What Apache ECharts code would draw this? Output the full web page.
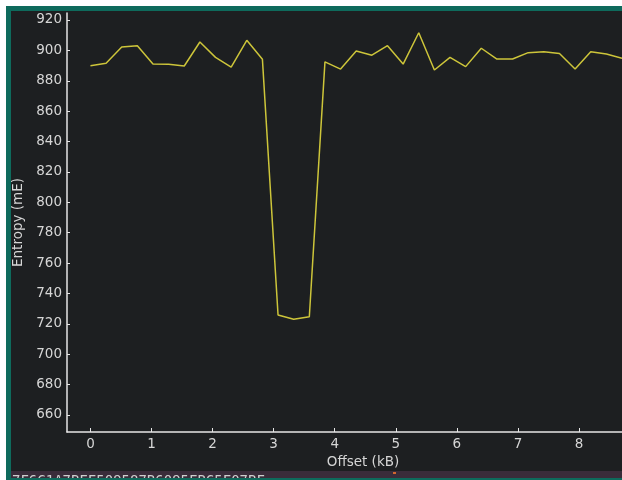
<!DOCTYPE html>
<html>
<head>
<meta charset="utf-8">
<script src="https://cdn.jsdelivr.net/npm/echarts@6/dist/echarts.min.js"></script>
<style>
  html, body { margin: 0; padding: 0; background: #ffffff; }
  #chart { width: 622px; height: 480px; }
</style>
</head>
<body>
<div id="chart"></div>
<script>
// offset of each 256-byte block, in kB
const offsets = [
    0, 0.256, 0.512, 0.768, 1.024, 1.28, 1.536, 1.792, 2.048, 2.304,
    2.56, 2.816, 3.072, 3.328, 3.584, 3.84, 4.096, 4.352, 4.608, 4.864,
    5.12, 5.376, 5.632, 5.888, 6.144, 6.4, 6.656, 6.912, 7.168, 7.424,
    7.68, 7.936, 8.192, 8.448, 8.704
];
// entropy in milli-entropy units
const entropy = [
    889.9, 891.5, 902.2, 903.1, 891.0, 890.8, 889.7, 905.5, 895.4, 889.0,
    906.6, 894.1, 725.8, 723.0, 724.7, 892.4, 887.7, 899.6, 896.8, 903.1,
    891.0, 911.6, 887.1, 895.4, 889.3, 901.4, 894.3, 894.3, 898.5, 899.1,
    898.0, 887.7, 899.1, 897.6, 894.8
];
const xTicks = [0, 1, 2, 3, 4, 5, 6, 7, 8];
const yTicks = [660, 680, 700, 720, 740, 760, 780, 800, 820, 840, 860, 880, 900, 920];
const hexLine = '7F6C1A7BEF509587B6095FBC5F07BF';

var chartDom = document.getElementById('chart');
var myChart = echarts.init(chartDom);

const labelColor = '#d6d6d6';
const axisColor = '#e6e6e6';

var option = {
    backgroundColor: '#ffffff',
    animation: false,
    textStyle: {fontFamily: 'DejaVu Sans'},
    grid: {left: 67, top: 13, right: 0, bottom: 48},
    xAxis: {
        type: 'value',
        min: -0.384,
        max: 8.704,
        name: 'Offset (kB)',
        nameLocation: 'middle',
        nameGap: 22,
        nameTextStyle: {color: labelColor, fontSize: 13.5, padding: [0, 0, 0, 37]},
        axisLine: {onZero: false, lineStyle: {color: axisColor, width: 1.5}},
        axisTick: {inside: true, length: 4, customValues: xTicks, lineStyle: {color: axisColor}},
        axisLabel: {customValues: xTicks, color: labelColor, fontSize: 13.5, margin: 5},
        splitLine: {show: false}
    },
    yAxis: {
        type: 'value',
        min: 648.8,
        max: 924.6,
        name: 'Entropy (mE)',
        nameLocation: 'middle',
        nameGap: 41,
        nameTextStyle: {color: labelColor, fontSize: 13.5},
        axisLine: {show: true, onZero: false, lineStyle: {color: axisColor, width: 1.5}},
        axisTick: {show: true, inside: true, length: 3, customValues: yTicks, lineStyle: {color: axisColor}},
        axisLabel: {customValues: yTicks, color: labelColor, fontSize: 13.5, margin: 5},
        splitLine: {show: false}
    },
    graphic: {
        elements: [
            {type: 'rect', z: -10, shape: {x: 6, y: 6, width: 616, height: 474}, style: {fill: '#0e6a5c'}},
            {type: 'rect', z: -9, shape: {x: 11, y: 11, width: 611, height: 460}, style: {fill: '#1d1f21'}},
            {type: 'rect', z: -9, shape: {x: 11, y: 471, width: 611, height: 7}, style: {fill: '#3a2c3a'}},
            {type: 'text', z: 100, x: 12, y: 474, style: {text: hexLine, fill: '#cfcfcf', font: '14px "DejaVu Sans Mono"'}},
            {type: 'rect', z: 100, shape: {x: 393, y: 472, width: 3, height: 2}, style: {fill: '#d2662e'}},
            {type: 'rect', z: 101, shape: {x: 6, y: 478, width: 616, height: 2}, style: {fill: '#0e6a5c'}}
        ]
    },
    series: [{
        type: 'line',
        data: offsets.map((x, i) => [x, entropy[i]]),
        showSymbol: false,
        clip: true,
        lineStyle: {color: '#cdc53a', width: 1.5},
        itemStyle: {color: '#cdc53a'}
    }]
};

myChart.setOption(option);
</script>
</body>
</html>
